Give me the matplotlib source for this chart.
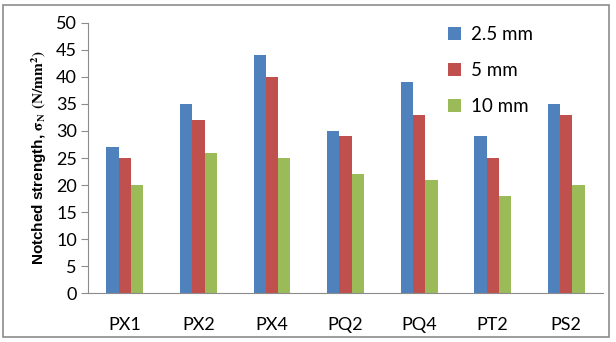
import matplotlib.pyplot as plt
import numpy as np
from matplotlib.patches import Rectangle

categories = ['PX1', 'PX2', 'PX4', 'PQ2', 'PQ4', 'PT2', 'PS2']
series_names = ['2.5 mm', '5 mm', '10 mm']
vals_25 = [27, 35, 44, 30, 39, 29, 35]
vals_5 = [25, 32, 40, 29, 33, 25, 33]
vals_10 = [20, 26, 25, 22, 21, 18, 20]
colors = ['#4F81BD', '#C0504D', '#9BBB59']

plt.rcParams['font.family'] = ['Lato', 'DejaVu Sans']
plt.rcParams['mathtext.fontset'] = 'stix'

fig = plt.figure(figsize=(6.16, 3.42), dpi=100)
ax = fig.add_axes([0.143, 0.143, 0.836, 0.790])

# outer chart border
fig.patches.append(Rectangle((0.005, 0.015), 0.983, 0.97, transform=fig.transFigure,
                             fill=False, edgecolor='#8c8c8c', linewidth=1.2))

x = np.arange(len(categories))
w = 0.167
for i, (vals, name) in enumerate(zip([vals_25, vals_5, vals_10], series_names)):
    ax.bar(x + (i - 1) * w, vals, width=w, color=colors[i], label=name)

ax.set_xlim(-0.5, len(categories) - 0.5)
ax.set_ylim(0, 50)
ax.set_yticks(range(0, 51, 5))
ax.set_xticks(x)
ax.set_xticklabels(categories)
ax.tick_params(axis='x', length=0, pad=17, labelsize=13)
ax.tick_params(axis='y', length=5, color='#8c8c8c', labelsize=13, pad=3)

for s in ['top', 'right']:
    ax.spines[s].set_visible(False)
for s in ['left', 'bottom']:
    ax.spines[s].set_color('#8c8c8c')

ax.set_ylabel(r'Notched strength, $\mathbf{\sigma_N}$ $\mathbf{(N/mm^2)}$',
              fontsize=11, fontweight='bold', family='Liberation Sans', labelpad=5)

ax.legend(loc='upper left', bbox_to_anchor=(0.700, 0.972), bbox_transform=fig.transFigure,
          frameon=False, fontsize=13.5, handlelength=0.7, handleheight=0.7,
          handletextpad=0.5, labelspacing=1.0)

fig.savefig('out.png', dpi=100)
